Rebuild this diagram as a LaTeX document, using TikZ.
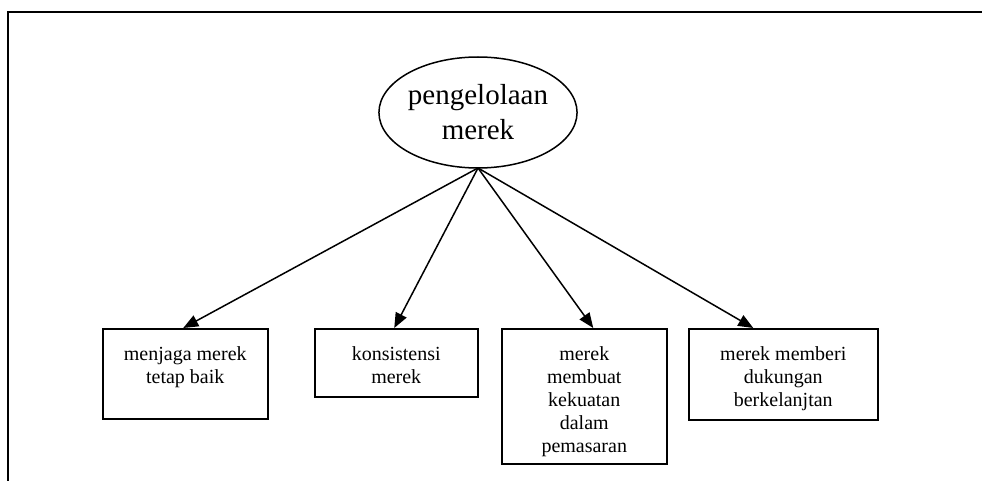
\documentclass[tikz,border=0pt]{standalone}
\usepackage{fontspec}
\setmainfont{Liberation Serif}
\usetikzlibrary{shapes.geometric,arrows.meta}
\tikzset{
  px/.style={x=1pt,y=-1pt},
  item/.style={draw,line width=1.5pt,anchor=north west,inner sep=0pt},
  itemtext/.style={font=\fontsize{20}{23}\selectfont,align=center,
    anchor=north,inner sep=0pt},
  link/.style={line width=1.5pt,-{Triangle[length=15pt,width=12pt]}},
}
\begin{document}
\begin{tikzpicture}[px]
\useasboundingbox (0,0) rectangle (982,481);
% open frame: left and top edges only
\draw[line width=2pt] (8,481) -- (8,12) -- (982,12);
% central topic
\node[draw,ellipse,line width=1.5pt,minimum width=196pt,minimum height=111pt,
  inner sep=0pt,align=center,font=\fontsize{29}{35}\selectfont]
  (top) at (478,112.5) {pengelolaan\\merek};
\coordinate (hub) at (478,168);
% the four outcomes
\node[item,minimum width=165pt,minimum height=90pt] (b1) at (102,328) {};
\node[itemtext] (t1) at ([yshift=-18pt]b1.north) {menjaga merek\\tetap baik};
\node[item,minimum width=163pt,minimum height=68pt] (b2) at (314,328) {};
\node[itemtext] (t2) at ([yshift=-18pt]b2.north) {konsistensi\\merek};
\node[item,minimum width=165pt,minimum height=135pt] (b3) at (501,328) {};
\node[itemtext] (t3) at ([yshift=-18pt]b3.north) {merek\\membuat\\kekuatan\\dalam\\pemasaran};
\node[item,minimum width=189pt,minimum height=91pt] (b4) at (688,328) {};
\node[itemtext] (t4) at ([yshift=-18pt]b4.north) {merek memberi\\dukungan\\berkelanjtan};
% connectors
\draw[link] (hub) -- ([xshift=-2pt]b1.north);
\draw[link] (hub) -- ([xshift=-2pt]b2.north);
\draw[link] (hub) -- ([xshift=9pt]b3.north);
\draw[link] (hub) -- ([xshift=-30pt]b4.north);
\end{tikzpicture}
\end{document}
